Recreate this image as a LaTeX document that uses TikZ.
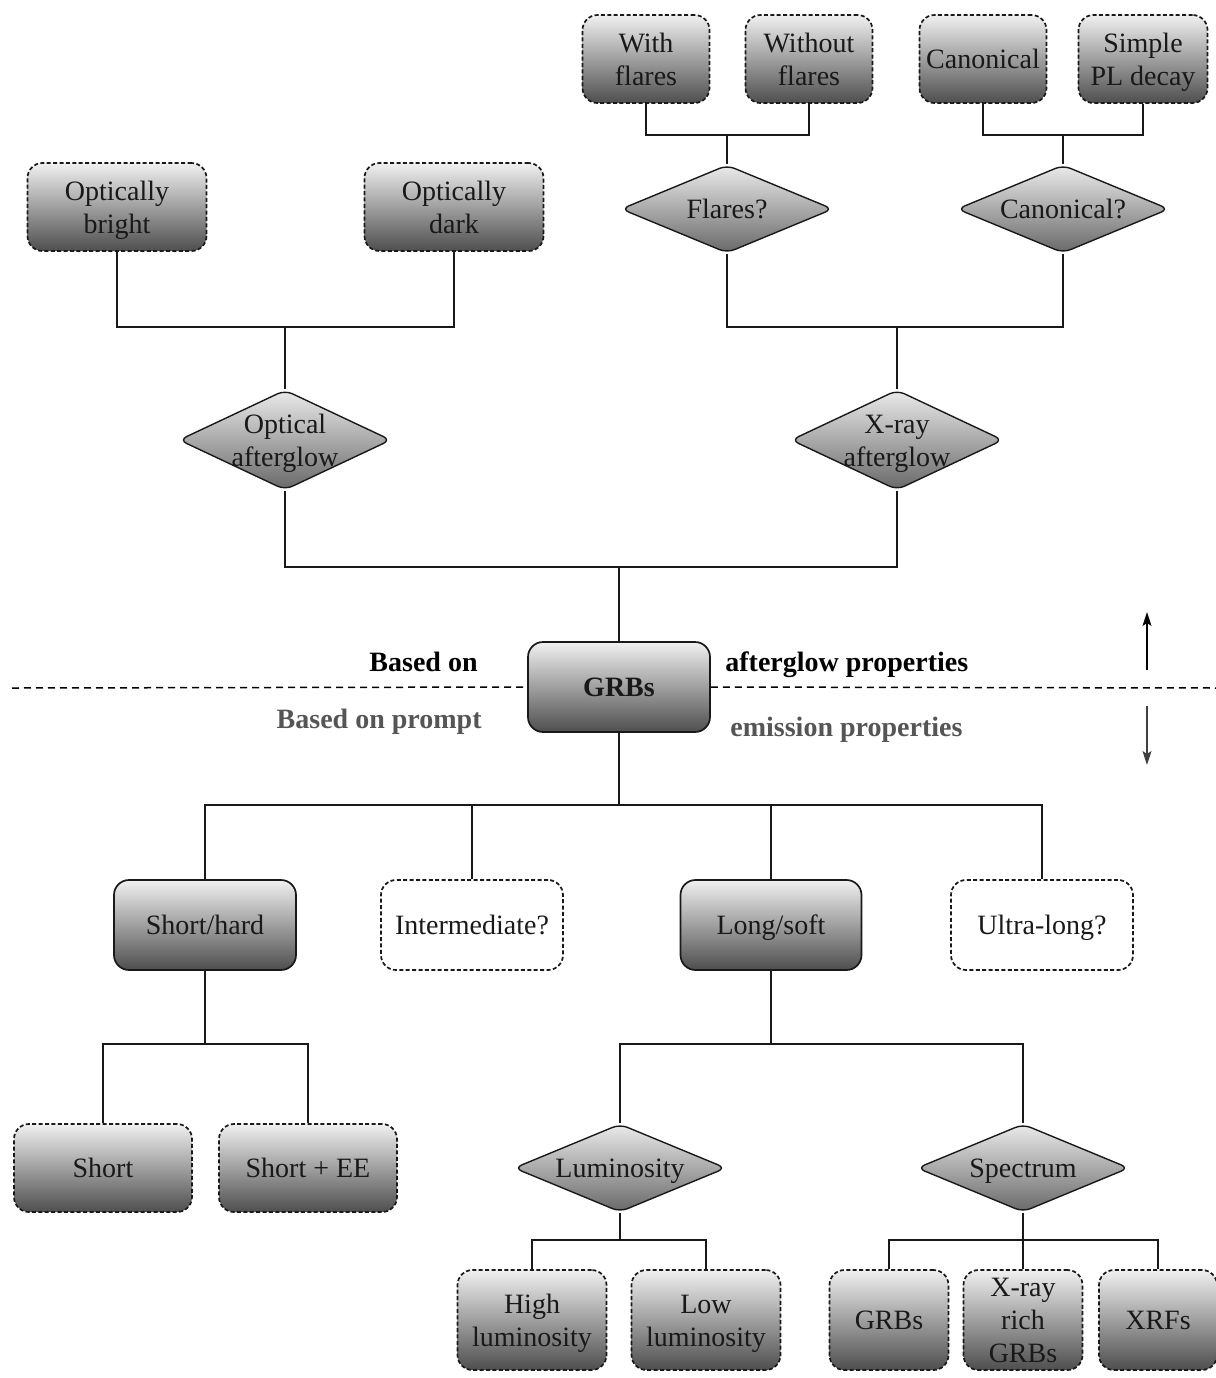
\documentclass[tikz,border=0pt]{standalone}
\usepackage{fontspec}
\setmainfont{Liberation Serif}
\usetikzlibrary{shapes.geometric,arrows.meta}
\definecolor{shtop}{HTML}{F0F0F0}
\definecolor{shbot}{HTML}{4E4E4E}
\definecolor{lblgray}{HTML}{555555}
\tikzset{
  txt/.style={font=\fontsize{14}{16.5}\selectfont, text=black!90},
  boxbase/.style={txt, rectangle, rounded corners=7.5pt, inner sep=0pt, line width=0.85pt},
  solidbox/.style={boxbase, draw=black!90, top color=shtop, bottom color=shbot},
  dashbox/.style={boxbase, draw=black!90, dash pattern=on 2pt off 1.2pt, top color=shtop, bottom color=shbot},
  openbox/.style={boxbase, draw=black!90, dash pattern=on 2pt off 1.2pt, fill=white},
  dia/.style={txt, diamond, aspect=1, inner sep=0pt, rounded corners=4pt, draw=black!90, line width=0.7pt,
              top color=shtop!95!gray, bottom color=shbot!85!white, minimum width=106pt},
  conn/.style={line width=0.7pt, draw=black!90},
  lbl/.style={font=\fontsize{14}{16.5}\selectfont\bfseries, inner sep=0pt},
  arr/.style={line width=0.7pt, -{Stealth[length=7pt,width=4.5pt,inset=1.5pt]}},
}
\newcommand{\tb}[1]{\raisebox{-1.5pt}[\height][\depth]{\begin{tabular}{@{}c@{}}#1\end{tabular}}}
\newcommand{\zb}[1]{\makebox[0pt]{\tb{#1}}}
\begin{document}
\begin{tikzpicture}[x=0.5pt,y=-0.5pt]
\useasboundingbox (0,0) rectangle (1216,1378);

% top row
\node[dashbox, minimum width=63.5pt, minimum height=44pt] (wf) at (646,59) {\tb{With\\flares}};
\node[dashbox, minimum width=63.5pt, minimum height=44pt] (wof) at (809,59) {\tb{Without\\flares}};
\node[dashbox, minimum width=63.5pt, minimum height=44pt] (can) at (983,59) {\tb{Canonical}};
\node[dashbox, minimum width=64.5pt, minimum height=44pt] (spl) at (1143,59) {\tb{Simple\\PL decay}};

\node[dia, minimum height=44pt] (fl) at (727,209) {\zb{Flares?}};
\node[dia, minimum height=44pt] (cq) at (1063,209) {\zb{Canonical?}};

\node[dashbox, minimum width=89.5pt, minimum height=44pt] (obr) at (117,207) {\tb{Optically\\bright}};
\node[dashbox, minimum width=89.5pt, minimum height=44pt] (odk) at (454,207) {\tb{Optically\\dark}};

\node[dia, minimum height=50pt] (oa) at (285,440) {\zb{Optical\\afterglow}};
\node[dia, minimum height=50pt] (xa) at (897,440) {\zb{X-ray\\afterglow}};

% GRBs
\node[solidbox, minimum width=91pt, minimum height=45pt, font=\fontsize{14}{16.5}\selectfont\bfseries] (grb) at (619,687) {\tb{GRBs}};

% labels
\node[lbl, anchor=base east] (lb1) at (478,671) {Based on};
\node[lbl, anchor=base west] (lb2) at (725,671) {afterglow properties};
\node[lbl, anchor=base east, text=lblgray] (lb3) at (482,728) {Based on prompt};
\node[lbl, anchor=base west, text=lblgray] (lb4) at (730,736) {emission properties};

% dashed line
\coordinate (dl) at (12,688);
\coordinate (dr) at (1216,688);
\draw[line width=0.75pt, dash pattern=on 3.5pt off 2.5pt] (dl) -- (grb.west);
\draw[line width=0.75pt, dash pattern=on 3.5pt off 2.5pt] (grb.east) -- (dr);

% arrows
\coordinate (au1) at (1147,670);
\coordinate (au2) at (1147,612);
\coordinate (ad1) at (1147,706);
\coordinate (ad2) at (1147,765);
\draw[arr] (au1) -- (au2);
\draw[arr, draw=black!75, fill=black!75] (ad1) -- (ad2);

% middle row
\node[solidbox, minimum width=91pt, minimum height=45pt] (sh) at (205,925) {\tb{Short/hard}};
\node[openbox, minimum width=91pt, minimum height=45pt] (im) at (472,925) {\tb{Intermediate?}};
\node[solidbox, minimum width=90.5pt, minimum height=45pt] (ls) at (771,925) {\tb{Long/soft}};
\node[openbox, minimum width=91pt, minimum height=45pt] (ul) at (1042,925) {\tb{Ultra-long?}};

% short children
\node[dashbox, minimum width=89pt, minimum height=44pt] (sho) at (103,1168) {\tb{Short}};
\node[dashbox, minimum width=89pt, minimum height=44pt] (see) at (308,1168) {\tb{Short + EE}};

% long children
\node[dia, minimum height=44pt] (lum) at (620,1168) {\zb{Luminosity}};
\node[dia, minimum height=44pt] (spc) at (1023,1168) {\zb{Spectrum}};

\node[dashbox, minimum width=74.5pt, minimum height=50pt] (hl) at (532,1320) {\tb{High\\luminosity}};
\node[dashbox, minimum width=74.5pt, minimum height=50pt] (ll) at (706,1320) {\tb{Low\\luminosity}};

\node[dashbox, minimum width=59.5pt, minimum height=50pt] (g2) at (889,1320) {\tb{GRBs}};
\node[dashbox, minimum width=59.5pt, minimum height=50pt] (xr) at (1023,1320) {\tb{X-ray\\rich\\GRBs}};
\node[dashbox, minimum width=59pt, minimum height=50pt] (xrf) at (1158,1320) {\tb{XRFs}};

% connectors top
\coordinate (j1) at (727,135);
\draw[conn] (wf.south) |- (j1) -| (wof.south);
\draw[conn] (j1) -- (fl.north);
\coordinate (j2) at (1063,135);
\draw[conn] (can.south) |- (j2) -| (spl.south);
\draw[conn] (j2) -- (cq.north);

\coordinate (j3) at (285,327);
\draw[conn] (obr.south) |- (j3) -| (odk.south);
\draw[conn] (j3) -- (oa.north);
\coordinate (j4) at (897,327);
\draw[conn] (fl.south) |- (j4) -| (cq.south);
\draw[conn] (j4) -- (xa.north);

\coordinate (j5) at (619,567);
\draw[conn] (oa.south) |- (j5) -| (xa.south);
\draw[conn] (j5) -- (grb.north);

% connectors bottom
\coordinate (j6) at (619,805);
\draw[conn] (grb.south) -- (j6);
\draw[conn] (sh.north) |- (j6) -| (ul.north);
\draw[conn] (im.north) -- (im.north |- j6);
\draw[conn] (ls.north) -- (ls.north |- j6);

\coordinate (j7) at (205,1044);
\draw[conn] (sh.south) -- (j7);
\draw[conn] (sho.north) |- (j7) -| (see.north);

\coordinate (j8) at (771,1044);
\draw[conn] (ls.south) -- (j8);
\draw[conn] (lum.north) |- (j8) -| (spc.north);

\coordinate (j9) at (620,1240);
\draw[conn] (lum.south) -- (j9);
\draw[conn] (hl.north) |- (j9) -| (ll.north);

\coordinate (j10) at (1023,1240);
\draw[conn] (spc.south) -- (j10);
\draw[conn] (g2.north) |- (j10) -| (xrf.north);
\draw[conn] (xr.north) -- (j10);
\end{tikzpicture}
\end{document}
